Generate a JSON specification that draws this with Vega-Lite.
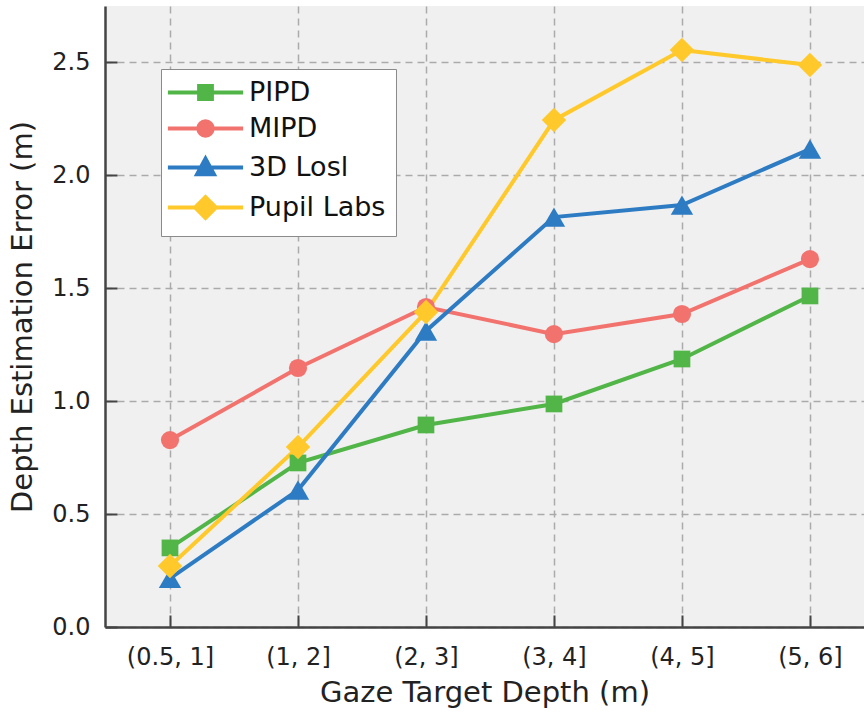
{
  "$schema": "https://vega.github.io/schema/vega-lite/v6.json",
  "width": 759,
  "height": 621,
  "autosize": {"type": "none"},
  "padding": {"left": 105, "top": 6, "right": 0, "bottom": 87},
  "background": "white",
  "config": {
    "view": {"stroke": null, "fill": "#F0F0F0"},
    "axis": {
      "domainColor": "#444444",
      "domainWidth": 2.5,
      "tickColor": "#444444",
      "tickWidth": 2,
      "tickSize": -12,
      "gridColor": "#AAAAAA",
      "gridDash": [7, 5],
      "gridWidth": 1.5,
      "labelFont": "DejaVu Sans",
      "labelFontSize": 24,
      "labelColor": "#222222",
      "titleFont": "DejaVu Sans",
      "titleFontSize": 29,
      "titleFontWeight": "normal",
      "titleColor": "#222222"
    },
    "legend": {
      "labelFont": "DejaVu Sans",
      "labelFontSize": 27,
      "labelColor": "#111111"
    }
  },
  "data": {
    "values": [
      {"depth": "(0.5, 1]", "method": "PIPD", "error": 0.35},
      {"depth": "(1, 2]", "method": "PIPD", "error": 0.726},
      {"depth": "(2, 3]", "method": "PIPD", "error": 0.894},
      {"depth": "(3, 4]", "method": "PIPD", "error": 0.987},
      {"depth": "(4, 5]", "method": "PIPD", "error": 1.186},
      {"depth": "(5, 6]", "method": "PIPD", "error": 1.465},
      {"depth": "(0.5, 1]", "method": "MIPD", "error": 0.827},
      {"depth": "(1, 2]", "method": "MIPD", "error": 1.146},
      {"depth": "(2, 3]", "method": "MIPD", "error": 1.416},
      {"depth": "(3, 4]", "method": "MIPD", "error": 1.296},
      {"depth": "(4, 5]", "method": "MIPD", "error": 1.385},
      {"depth": "(5, 6]", "method": "MIPD", "error": 1.628},
      {"depth": "(0.5, 1]", "method": "3D Losl", "error": 0.215},
      {"depth": "(1, 2]", "method": "3D Losl", "error": 0.606},
      {"depth": "(2, 3]", "method": "3D Losl", "error": 1.31},
      {"depth": "(3, 4]", "method": "3D Losl", "error": 1.814},
      {"depth": "(4, 5]", "method": "3D Losl", "error": 1.867},
      {"depth": "(5, 6]", "method": "3D Losl", "error": 2.115},
      {"depth": "(0.5, 1]", "method": "Pupil Labs", "error": 0.27},
      {"depth": "(1, 2]", "method": "Pupil Labs", "error": 0.796},
      {"depth": "(2, 3]", "method": "Pupil Labs", "error": 1.394},
      {"depth": "(3, 4]", "method": "Pupil Labs", "error": 2.243},
      {"depth": "(4, 5]", "method": "Pupil Labs", "error": 2.553},
      {"depth": "(5, 6]", "method": "Pupil Labs", "error": 2.487}
    ]
  },
  "encoding": {
    "x": {
      "field": "depth",
      "type": "ordinal",
      "sort": null,
      "scale": {"type": "point", "padding": 0.465, "align": 0.546},
      "axis": {"title": "Gaze Target Depth (m)", "labelAngle": 0, "labelPadding": 30, "titlePadding": 9, "grid": true}
    },
    "y": {
      "field": "error",
      "type": "quantitative",
      "scale": {"domain": [0, 2.748], "nice": false, "zero": true},
      "axis": {"title": "Depth Estimation Error (m)", "values": [0, 0.5, 1, 1.5, 2, 2.5], "format": ".1f", "labelPadding": 27, "titlePadding": 14, "grid": true}
    },
    "color": {
      "field": "method",
      "type": "nominal",
      "scale": {
        "domain": ["PIPD", "MIPD", "3D Losl", "Pupil Labs"],
        "range": ["#52B548", "#F2736E", "#2D7CC3", "#FFC92C"]
      },
      "legend": {
        "title": null,
        "orient": "none",
        "legendX": 56,
        "legendY": 63,
        "fillColor": "white",
        "strokeColor": "#8A8A8A",
        "padding": 10,
        "symbolSize": 256,
        "symbolOffset": 21,
        "labelOffset": 30,
        "rowPadding": 6,
        "encode": {
          "symbols": {
            "update": {
              "shape": {"signal": "datum.value === 'PIPD' ? 'M-4.7,0H4.7M-0.8,-0.8H0.8V0.8H-0.8Z' : datum.value === 'MIPD' ? 'M-4.7,0H4.7M-0.9,0A0.9,0.9,0,1,0,0.9,0A0.9,0.9,0,1,0,-0.9,0Z' : datum.value === '3D Losl' ? 'M-4.7,0H4.7M0,-1.1L1.05,0.85H-1.05Z' : 'M-4.7,0H4.7M0,-1.3L1.3,0L0,1.3L-1.3,0Z'"},
              "stroke": {"signal": "scale('color', datum.value)"},
              "strokeWidth": {"value": 4},
              "opacity": {"value": 1}
            }
          }
        }
      }
    }
  },
  "layer": [
    {
      "mark": {"type": "line", "strokeWidth": 4}
    },
    {
      "mark": {"type": "point", "filled": true, "opacity": 1},
      "encoding": {
        "shape": {
          "field": "method",
          "type": "nominal",
          "scale": {"range": ["triangle-up", "circle", "square", "diamond"]},
          "legend": null
        },
        "size": {
          "field": "method",
          "type": "nominal",
          "scale": {"type": "ordinal", "range": [500, 330, 280, 600]},
          "legend": null
        }
      }
    }
  ]
}
